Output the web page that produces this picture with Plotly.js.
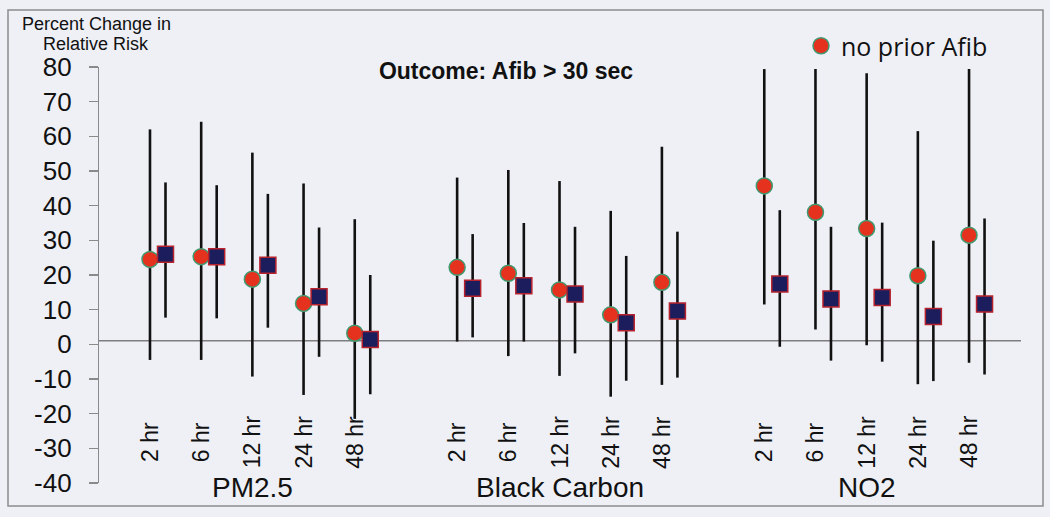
<!DOCTYPE html>
<html>
<head>
<meta charset="utf-8">
<script src="https://cdn.plot.ly/plotly-3.0.1.min.js"></script>
<style>html,body{margin:0;padding:0;background:#eef0f6;}</style>
</head>
<body>
<div id="chart" style="width:1050px;height:517px;"></div>
<script>
// ---- data ----
const pollutants = ['PM2.5', 'Black Carbon', 'NO2'];
const lags = ['2 hr', '6 hr', '12 hr', '24 hr', '48 hr'];

// no prior Afib (circles): estimate, lower CI, upper CI (15 = 3 pollutants x 5 lags)
const noPriorEst = [24.5, 25.3, 18.8, 11.8, 3.2,   22.2, 20.5, 15.7, 8.5, 17.9,   45.7, 38.1, 33.4, 19.8, 31.5];
const noPriorLo  = [-4.5, -4.5, -9.3, -14.6, -21.5, 0.8, -3.4, -9.1, -15.1, -11.7, 11.5, 4.3, -0.3, -11.5, -5.3];
const noPriorHi  = [62.0, 64.2, 55.3, 46.4, 36.1,  48.1, 50.3, 47.1, 38.5, 57.0,  79.4, 79.4, 78.2, 61.5, 79.4];

// second group (squares)
const otherEst = [26.0, 25.3, 22.8, 13.7, 1.4,   16.2, 16.9, 14.5, 6.2, 9.6,   17.4, 13.1, 13.5, 8.0, 11.6];
const otherLo  = [7.7, 7.5, 4.8, -3.6, -14.4,    2.0, 0.8, -2.6, -10.5, -9.6,  -0.7, -4.7, -5.0, -10.6, -8.7];
const otherHi  = [46.7, 45.9, 43.4, 33.7, 20.0,  31.8, 35.0, 33.9, 25.5, 32.5, 38.7, 33.9, 35.1, 29.9, 36.3];

const yTicks = [-40, -30, -20, -10, 0, 10, 20, 30, 40, 50, 60, 70, 80];
const refLine = 1;

// ---- positions (category slots, one empty slot between pollutant groups) ----
const xPos = [], xLab = [];
pollutants.forEach((p, g) => lags.forEach((l, j) => { xPos.push(g * 6 + j); xLab.push(l); }));
const xOff = 0.303;
const xPos2 = xPos.map(v => v + xOff);

const circ = {
  type: 'scatter', mode: 'markers', name: 'no prior Afib',
  x: xPos, y: noPriorEst,
  marker: { symbol: 'circle', size: 16, color: '#e5321f', line: { color: '#3f9a72', width: 1.5 } },
  error_y: { type: 'data', symmetric: false,
    array: noPriorHi.map((h, i) => h - noPriorEst[i]),
    arrayminus: noPriorLo.map((l, i) => noPriorEst[i] - l),
    color: '#111111', thickness: 2.6, width: 0 },
  showlegend: true
};
const sq = {
  type: 'scatter', mode: 'markers', name: 'prior Afib',
  x: xPos2, y: otherEst,
  marker: { symbol: 'square', size: 16, color: '#1b1d5c', line: { color: '#b8222c', width: 1.5 } },
  error_y: { type: 'data', symmetric: false,
    array: otherHi.map((h, i) => h - otherEst[i]),
    arrayminus: otherLo.map((l, i) => otherEst[i] - l),
    color: '#111111', thickness: 2.6, width: 0 },
  showlegend: false
};

// pixel helpers for paper coordinates
const L = 99, R = 1021, T = 67, B = 483;
const px = v => (v - L) / (R - L);
const py = v => (B - v) / (B - T);
const FONT = 'Liberation Sans, Arial, sans-serif';

const annotations = [];
annotations.push({ xref: 'paper', yref: 'paper', x: px(96), y: py(24), text: 'Percent Change in', showarrow: false,
  xanchor: 'center', yanchor: 'middle', font: { family: FONT, size: 18, color: '#111' } });
annotations.push({ xref: 'paper', yref: 'paper', x: px(96), y: py(44), text: 'Relative Risk', showarrow: false,
  xanchor: 'center', yanchor: 'middle', font: { family: FONT, size: 18, color: '#111' } });
xPos.forEach((x, i) => annotations.push({
  xref: 'x', yref: 'paper', x: x, y: py(442), text: xLab[i], textangle: -90, showarrow: false,
  xanchor: 'center', yanchor: 'middle', font: { family: FONT, size: 23, color: '#111' }
}));
pollutants.forEach((p, g) => annotations.push({
  xref: 'x', yref: 'paper', x: g * 6 + 2, y: py(487), text: p, showarrow: false,
  xanchor: 'center', yanchor: 'middle', font: { family: FONT, size: 28, color: '#111' }
}));

const layout = {
  width: 1050, height: 517,
  paper_bgcolor: '#eef0f6', plot_bgcolor: '#eef0f6',
  margin: { l: L, r: 1050 - R, t: T, b: 517 - B, pad: 0 },
  title: { text: '<b>Outcome: Afib &gt; 30 sec</b>', x: 506 / 1050, y: 1 - 71 / 517, xanchor: 'center', yanchor: 'middle',
    font: { family: FONT, size: 23, color: '#111' } },
  xaxis: { range: [-0.996, 17.015], visible: false, showgrid: false, zeroline: false },
  yaxis: { range: [-40, 80], tickvals: yTicks, ticktext: yTicks.map(String),
    showline: true, linecolor: '#8a8a8a', linewidth: 1.2,
    ticks: 'outside', ticklen: 9, tickcolor: '#8a8a8a', tickwidth: 1.2,
    tickfont: { family: FONT, size: 26, color: '#111' },
    showgrid: false, zeroline: false, ticklabelstandoff: 12 },
  shapes: [
    { type: 'line', xref: 'paper', yref: 'y', x0: 0, x1: 1, y0: refLine, y1: refLine, line: { color: '#7e7e7e', width: 1.5 }, layer: 'below' },
    { type: 'rect', xref: 'paper', yref: 'paper', x0: px(8), x1: px(1043), y0: py(506), y1: py(10), line: { color: '#8c8c8c', width: 1.5 }, fillcolor: 'rgba(0,0,0,0)', layer: 'below' }
  ],
  legend: { x: px(801), y: py(46), xanchor: 'left', yanchor: 'middle', bgcolor: 'rgba(0,0,0,0)',
    font: { family: 'Open Sans, sans-serif', size: 25, color: '#111' } },
  annotations: annotations
};

Plotly.newPlot('chart', [circ, sq], layout, { displayModeBar: false, staticPlot: true });
</script>
</body>
</html>
